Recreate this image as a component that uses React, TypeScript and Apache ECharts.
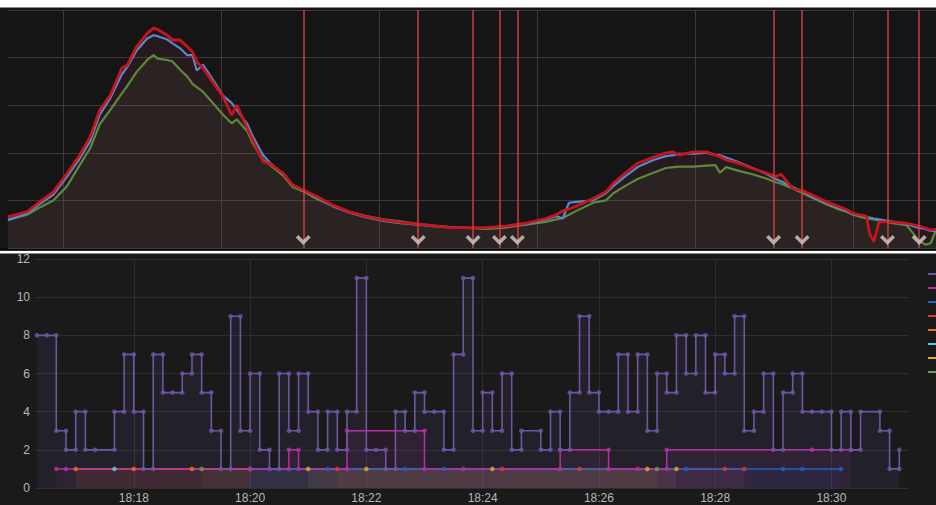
import React, { useEffect, useRef } from 'react';
import * as echarts from 'echarts';

// ---------------- top panel data ----------------
const topTimes = [
  0, 18, 30, 43, 56, 68, 78, 87, 97, 108,
  113, 122, 132, 138, 142, 151, 156, 163, 170, 175,
  179, 185, 194, 204, 212, 217, 227, 232, 242, 248,
  261, 270, 280, 293, 308, 324, 340, 356, 372, 388,
  403, 419, 435, 453, 472, 491, 510, 520, 526, 532,
  539, 555, 567, 574, 585, 597, 612, 624, 631, 636,
  650, 662, 671, 675, 681, 693, 706, 719, 728, 733,
  744, 754, 763, 776, 788, 795, 801, 814, 817, 821,
  826, 839, 852, 864, 870, 875, 880,
];
const topRed = [
  0.66, 0.76, 0.97, 1.18, 1.57, 1.95, 2.34, 2.9, 3.21, 3.78,
  3.84, 4.23, 4.51, 4.62, 4.59, 4.47, 4.37, 4.37, 4.23, 4.12,
  3.91, 3.78, 3.49, 3.18, 2.79, 3.0, 2.51, 2.27, 1.81, 1.78,
  1.57, 1.32, 1.22, 1.08, 0.9, 0.76, 0.66, 0.59, 0.54, 0.5,
  0.47, 0.43, 0.43, 0.43, 0.46, 0.52, 0.62, 0.7, 0.78, 0.82,
  0.88, 1.04, 1.18, 1.36, 1.57, 1.78, 1.91, 2.0, 2.02, 1.95,
  2.02, 2.02, 1.95, 1.92, 1.85, 1.78, 1.67, 1.58, 1.5, 1.55,
  1.25, 1.2, 1.11, 0.97, 0.87, 0.81, 0.73, 0.67, 0.31, 0.13,
  0.55, 0.55, 0.52, 0.46, 0.42, 0.38, 0.39,
];
const topBlue = [
  0.59, 0.72, 0.92, 1.12, 1.5, 1.88, 2.25, 2.8, 3.15, 3.65,
  3.8, 4.15, 4.4, 4.47, 4.45, 4.38, 4.3, 4.2, 4.05, 4.05,
  3.73, 3.85, 3.55, 3.2, 3.05, 2.9, 2.6, 2.35, 1.95, 1.8,
  1.55, 1.33, 1.2, 1.06, 0.88, 0.74, 0.64, 0.57, 0.52, 0.49,
  0.46, 0.44, 0.42, 0.42, 0.45, 0.5, 0.6, 0.67, 0.62, 0.95,
  0.97, 1.0, 1.15, 1.3, 1.5, 1.7, 1.85, 1.93, 1.95, 1.98,
  1.98, 2.0, 1.95, 1.95, 1.9, 1.8, 1.68, 1.56, 1.45, 1.4,
  1.28, 1.18, 1.07, 0.94, 0.84, 0.78, 0.72, 0.65, 0.64, 0.62,
  0.6, 0.55, 0.5, 0.42, 0.4, 0.36, 0.36,
];
const topGreen = [
  0.59, 0.7, 0.85, 1.0, 1.3, 1.74, 2.1, 2.6, 2.9, 3.25,
  3.4, 3.7, 3.95, 4.05, 3.98, 3.95, 3.92, 3.75, 3.6, 3.45,
  3.38, 3.28, 3.05, 2.8, 2.62, 2.7, 2.45, 2.2, 1.85, 1.75,
  1.52, 1.28, 1.19, 1.03, 0.88, 0.76, 0.67, 0.6, 0.56, 0.51,
  0.47, 0.44, 0.42, 0.4, 0.43, 0.49, 0.55, 0.6, 0.63, 0.7,
  0.78, 0.95, 1.0, 1.15, 1.3, 1.45, 1.58, 1.68, 1.7, 1.71,
  1.71, 1.73, 1.74, 1.58, 1.7, 1.62, 1.55, 1.46, 1.38, 1.35,
  1.25, 1.15, 1.05, 0.92, 0.81, 0.76, 0.7, 0.62, 0.61, 0.6,
  0.58, 0.52, 0.48, 0.15, 0.07, 0.1, 0.38,
];
const topGridTimes = [52, 202, 352, 502, 652, 802];
const annotationTimes = [280, 389, 441, 466, 483, 726, 753, 834, 864];

// ---------------- bottom panel data ----------------
// samples every 10 s starting 18:16:20 (seconds after 18:00)
const sampleStart = 980;
const sampleStep = 10;
const purpleVals = [
  8, 8, 3, 2, 4, 2, 2, null, 4, 7,
  4, 1, 7, 5, 5, 6, 7, 5, 3, 1,
  9, 3, 6, 2, 1, 6, 3, 6, 4, 2,
  4, 2, 4, 11, 2, 2, 1, 4, 3, 5,
  4, 4, 2, 7, 11, 3, 5, 3, 6, 2,
  3, null, 2, 4, 2, 5, 9, 5, 4, 4,
  7, 4, 7, 3, 6, 5, 8, 6, 8, 5,
  7, 6, 9, 3, 4, 6, 2, 5, 6, 4,
  4, 4, 2, 4, 2, 4, null, 3, 1, 2,
];
const magentaIdx = [2, 3, 22, 26, 27, 32, 40, 44, 54, 59, 62, 65, 80, 84];
const magentaVals = [1, 1, 1, 2, 1, 3, 1, 1, 2, 1, 1, 2, 2, 2];
const blueIdx = [22, 30, 38, 42, 67, 77, 79, 83];
const blueVals = [1, 1, 1, 1, 1, 1, 1, 1];
const redIdx = [31, 48, 56, 71, 73];
const redVals = [1, 1, 1, 1, 1];
const orangeIdx = [4, 10, 16, 22];
const orangeVals = [1, 1, 1, 1];
const cyanIdx = [8];
const cyanVals = [1];
const yellowIdx = [28, 34, 47, 63, 66];
const yellowVals = [1, 1, 1, 1, 1];
const greenIdx = [17, 64];
const greenVals = [1, 1];

const timeTicks = [1080, 1200, 1320, 1440, 1560, 1680, 1800];
const timeTickLabels = ['18:18', '18:20', '18:22', '18:24', '18:26', '18:28', '18:30'];

const purpleIdx: number[] = [];
const purpleClean: number[] = [];
purpleVals.forEach((v, i) => {
  if (v !== null) {
    purpleIdx.push(i);
    purpleClean.push(v as number);
  }
});

type Pt = [number, number];
function stepPoints(idx: number[], vals: number[]): Pt[] {
  const pts: Pt[] = [];
  for (let i = 0; i < idx.length; i++) {
    const t = sampleStart + sampleStep * idx[i];
    if (i > 0 && vals[i] !== vals[i - 1]) pts.push([t, vals[i - 1]]);
    pts.push([t, vals[i]]);
  }
  return pts;
}

const bottomSeriesDefs = [
  { name: 'purple', color: '#6E56A3', idx: purpleIdx, vals: purpleClean, width: 1.6 },
  { name: 'magenta', color: '#B52FA3', idx: magentaIdx, vals: magentaVals, width: 1.5 },
  { name: 'blue', color: '#1F62C2', idx: blueIdx, vals: blueVals, width: 1.5 },
  { name: 'red', color: '#DC3838', idx: redIdx, vals: redVals, width: 1.5 },
  { name: 'orange', color: '#EB6E1E', idx: orangeIdx, vals: orangeVals, width: 1.5 },
  { name: 'cyan', color: '#5CC8E0', idx: cyanIdx, vals: cyanVals, width: 1.5 },
  { name: 'yellow', color: '#E0AE1E', idx: yellowIdx, vals: yellowVals, width: 1.5 },
  { name: 'green', color: '#62A052', idx: greenIdx, vals: greenVals, width: 1.5 },
];

function buildOption() {
  const axisTextColor = '#b8b8b8';
  const font = 'Liberation Sans, Arial, Helvetica, sans-serif';

  const topPts = (vals: number[]) => topTimes.map((t, i) => [t, vals[i]]);

  const series: any[] = [];

  // annotations (vertical red lines + chevrons)
  series.push({
    type: 'scatter',
    xAxisIndex: 0,
    yAxisIndex: 0,
    data: annotationTimes.map((t) => [t, 0.17]),
    symbol: 'path://M0,2.5 L2.5,0 L7.5,5 L12.5,0 L15,2.5 L7.5,10 Z',
    symbolSize: [15, 10],
    itemStyle: { color: '#cfcfcf' },
    z: 6,
    silent: true,
    markLine: {
      silent: true,
      symbol: ['none', 'none'],
      label: { show: false },
      lineStyle: { color: 'rgba(220,66,66,0.9)', width: 1.5, type: 'solid' },
      data: annotationTimes.map((t) => ({ xAxis: t })),
    },
  });

  const topDefs = [
    { name: 'green', data: topGreen, color: '#5B8A3C', width: 2.2, fill: 0.08 },
    { name: 'blue', data: topBlue, color: '#5A88CC', width: 2.2, fill: 0.06 },
    { name: 'red', data: topRed, color: '#C8141C', width: 2.8, fill: 0.08 },
  ];
  topDefs.forEach((d) => {
    series.push({
      type: 'line',
      name: 'top-' + d.name,
      xAxisIndex: 0,
      yAxisIndex: 0,
      data: topPts(d.data),
      showSymbol: false,
      symbol: 'none',
      lineStyle: { color: d.color, width: d.width },
      itemStyle: { color: d.color },
      areaStyle: { color: d.color, opacity: d.fill },
      z: 3,
    });
  });

  // bottom panel: lines (drawn bottom-up so that purple is on top)
  const drawOrder = [...bottomSeriesDefs].reverse();
  drawOrder.forEach((d) => {
    const pts = stepPoints(d.idx, d.vals);
    series.push({
      type: 'line',
      name: d.name,
      xAxisIndex: 1,
      yAxisIndex: 1,
      data: pts,
      showSymbol: false,
      symbol: 'none',
      lineStyle: { color: d.color, width: d.width },
      itemStyle: { color: d.color },
      areaStyle: { color: d.color, opacity: 0.1 },
      z: 3,
    });
  });
  drawOrder.forEach((d) => {
    const pts = stepPoints(d.idx, d.vals);
    series.push({
      type: 'scatter',
      name: d.name + '-points',
      xAxisIndex: 1,
      yAxisIndex: 1,
      data: pts,
      symbolSize: 4.6,
      itemStyle: { color: d.color },
      z: 5,
      silent: true,
    });
  });

  const legendGraphics = bottomSeriesDefs.map((d, i) => ({
    type: 'rect',
    z: 20,
    shape: { x: 928, y: 273 + 14 * i, width: 10, height: 2 },
    style: { fill: d.color },
  }));

  return {
    animation: false,
    backgroundColor: '#ffffff',
    textStyle: { fontFamily: font },
    graphic: [
      { type: 'rect', z: -10, shape: { x: 0, y: 7.5, width: 936, height: 243 }, style: { fill: '#151515' } },
      { type: 'rect', z: -9, shape: { x: 0, y: 248.2, width: 936, height: 2.6 }, style: { fill: '#0a0a0a' } },
      { type: 'rect', z: -10, shape: { x: 0, y: 253.5, width: 936, height: 252 }, style: { fill: '#1a1a1a' } },
      ...legendGraphics,
    ],
    grid: [
      { left: 8, right: 0, top: 10, bottom: 257 },
      { left: 35, right: 28, top: 259, bottom: 17 },
    ],
    xAxis: [
      {
        gridIndex: 0,
        type: 'value',
        min: 0,
        max: 880,
        axisLine: { show: false },
        axisTick: { show: false, customValues: topGridTimes },
        axisLabel: { show: false, customValues: topGridTimes },
        splitLine: { show: true, lineStyle: { color: '#3a3a3a', width: 1 } },
      },
      {
        gridIndex: 1,
        type: 'value',
        min: 978,
        max: 1879,
        axisLine: { show: false },
        axisTick: { show: false, customValues: timeTicks },
        axisLabel: {
          customValues: timeTicks,
          color: axisTextColor,
          fontSize: 12,
          margin: 4,
          fontFamily: font,
          formatter: (v: number) => {
            const k = timeTicks.indexOf(v);
            return k >= 0 ? timeTickLabels[k] : '';
          },
        },
        splitLine: { show: true, lineStyle: { color: '#2e2e2e', width: 1 } },
      },
    ],
    yAxis: [
      {
        gridIndex: 0,
        type: 'value',
        min: 0,
        max: 5,
        interval: 1,
        axisLine: { show: false },
        axisTick: { show: false },
        axisLabel: { show: false },
        splitLine: { show: true, lineStyle: { color: '#3a3a3a', width: 1 } },
      },
      {
        gridIndex: 1,
        type: 'value',
        min: 0,
        max: 12,
        interval: 2,
        axisLine: { show: false },
        axisTick: { show: false },
        axisLabel: { color: axisTextColor, fontSize: 12, margin: 5, fontFamily: font },
        splitLine: { show: true, lineStyle: { color: '#2e2e2e', width: 1 } },
      },
    ],
    series,
  };
}

export default function App() {
  const ref = useRef<HTMLDivElement>(null);
  useEffect(() => {
    if (!ref.current) return;
    const chart = echarts.init(ref.current, undefined, { renderer: 'svg' });
    chart.setOption(buildOption() as any);
    return () => {
      chart.dispose();
    };
  }, []);
  return (
    <div
      ref={ref}
      style={{ position: 'absolute', left: 0, top: 0, width: 936, height: 505 }}
    />
  );
}
